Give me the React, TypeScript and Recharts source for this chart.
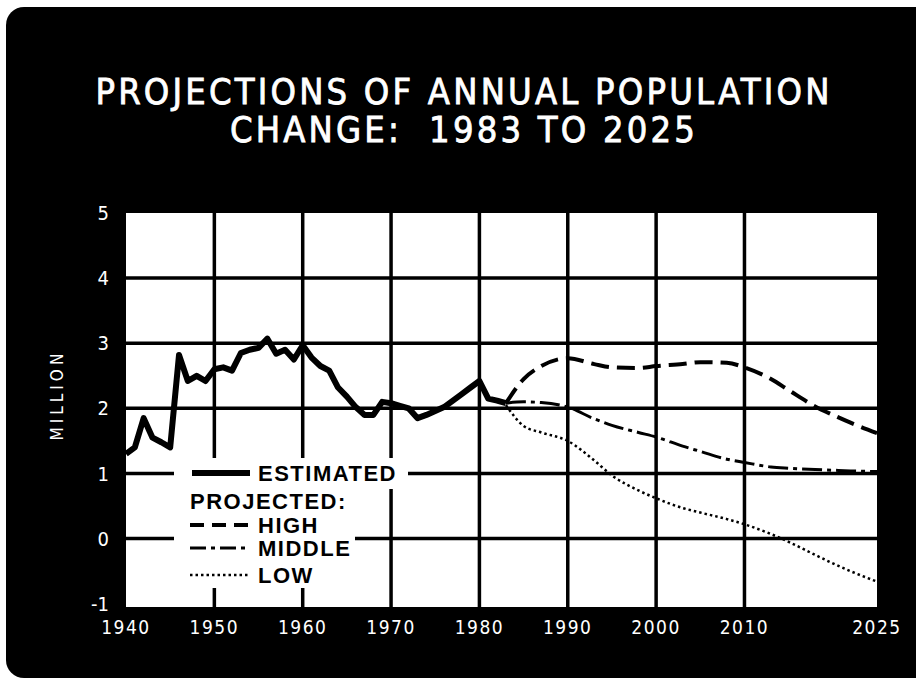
import { LineChart, Line, XAxis, YAxis, CartesianGrid } from "recharts";

// estimated annual change, million
const estYears = [
  1940, 1941, 1942, 1943, 1944, 1945, 1946, 1947, 1948, 1949, 1950, 1951, 1952, 1953, 1954,
  1955, 1956, 1957, 1958, 1959, 1960, 1961, 1962, 1963, 1964, 1965, 1966, 1967, 1968, 1969,
  1970, 1971, 1972, 1973, 1974, 1975, 1976, 1977, 1978, 1979, 1980, 1981, 1982, 1983,
];
const estimated = [
  1.3, 1.4, 1.85, 1.55, 1.48, 1.4, 2.82, 2.42, 2.5, 2.42, 2.6, 2.63, 2.58, 2.85, 2.9,
  2.93, 3.07, 2.84, 2.9, 2.75, 2.97, 2.78, 2.65, 2.58, 2.32, 2.18, 2.02, 1.9, 1.9, 2.1,
  2.08, 2.04, 2.0, 1.85, 1.9, 1.96, 2.02, 2.12, 2.22, 2.32, 2.42, 2.15, 2.12, 2.08,
];

// projections
const projYears = [1983, 1985, 1987, 1990, 1993, 1995, 1998, 2000, 2003, 2005, 2008, 2010, 2013, 2015, 2018, 2020, 2022, 2025];
const high = [2.08, 2.45, 2.65, 2.77, 2.68, 2.63, 2.62, 2.65, 2.68, 2.71, 2.7, 2.63, 2.45, 2.28, 2.03, 1.9, 1.78, 1.62];
const middle = [2.08, 2.1, 2.09, 2.02, 1.84, 1.74, 1.63, 1.56, 1.42, 1.34, 1.22, 1.17, 1.1, 1.08, 1.06, 1.05, 1.04, 1.03];
const low = [2.05, 1.73, 1.63, 1.5, 1.2, 0.97, 0.74, 0.62, 0.47, 0.4, 0.3, 0.22, 0.07, -0.05, -0.25, -0.38, -0.5, -0.66];

const xTicks = [1940, 1950, 1960, 1970, 1980, 1990, 2000, 2010, 2025];
const yTicks = [-1, 0, 1, 2, 3, 4, 5];
const gridYears = [1950, 1960, 1970, 1980, 1990, 2000, 2010];
const gridValues = [0, 1, 2, 3, 4];

const years = Array.from(new Set([...estYears, ...projYears])).sort((a, b) => a - b);
const data = years.map((year) => {
  const e = estYears.indexOf(year);
  const p = projYears.indexOf(year);
  return {
    year,
    estimated: e >= 0 ? estimated[e] : null,
    high: p >= 0 ? high[p] : null,
    middle: p >= 0 ? middle[p] : null,
    low: p >= 0 ? low[p] : null,
  };
});

const DASH_HIGH = "18 8";
const DASH_MIDDLE = "20 5 4 5";
const DASH_LOW = "2.5 3";

const axisFont = "'DejaVu Sans Condensed', 'DejaVu Sans', sans-serif";
const legendFont = "'Liberation Sans', Arial, sans-serif";

function Legend() {
  const textStyle = { fontFamily: legendFont, fontWeight: 700, fontSize: 22, letterSpacing: 1.5 };
  return (
    <svg width={916} height={679} style={{ position: "absolute", left: 0, top: 0 }}>
      <rect x={174} y={458} width={234} height={31} fill="#fff" />
      <rect x={174} y={489} width={181} height={99} fill="#fff" />
      <line x1={192} x2={250} y1={473} y2={473} stroke="#000" strokeWidth={6} />
      <text x={258} y={481} {...textStyle}>ESTIMATED</text>
      <text x={190} y={509} {...textStyle}>PROJECTED:</text>
      <line x1={190} x2={250} y1={525} y2={525} stroke="#000" strokeWidth={4} strokeDasharray="14 8" />
      <text x={258} y={533} {...textStyle}>HIGH</text>
      <line x1={190} x2={250} y1={548} y2={548} stroke="#000" strokeWidth={3} strokeDasharray="16 5 4 5" />
      <text x={258} y={556} {...textStyle}>MIDDLE</text>
      <line x1={190} x2={250} y1={575} y2={575} stroke="#000" strokeWidth={2.5} strokeDasharray={DASH_LOW} />
      <text x={258} y={583} {...textStyle}>LOW</text>
    </svg>
  );
}

export default function App() {
  return (
    <div style={{ position: "relative", width: 916, height: 679, background: "#fff", overflow: "hidden" }}>
      <style>{`body{margin:0}`}</style>
      <div
        style={{
          position: "absolute",
          left: 6,
          top: 7,
          right: 0,
          bottom: 1,
          background: "#000",
          borderTopLeftRadius: 18,
          borderBottomLeftRadius: 18,
        }}
      />
      <div
        style={{
          position: "absolute",
          left: 6,
          width: 916,
          top: 73,
          textAlign: "center",
          color: "#fff",
          fontFamily: "'DejaVu Sans Condensed', 'DejaVu Sans', sans-serif",
          fontSize: 36,
          letterSpacing: 3.2,
          lineHeight: "38px",
          WebkitTextStroke: "0.8px #fff",
        }}
      >
        <div>PROJECTIONS OF ANNUAL POPULATION</div>
        <div style={{ whiteSpace: "pre" }}>CHANGE:  1983 TO 2025</div>
      </div>
      <div style={{ position: "absolute", left: 0, top: 0 }}>
        <LineChart width={916} height={679} data={data} margin={{ top: 213, right: 39, bottom: 42, left: 46 }}>
          <CartesianGrid
            fill="#fff"
            stroke="#000"
            strokeWidth={3.5}
            verticalValues={gridYears}
            horizontalValues={gridValues}
          />
          <XAxis
            dataKey="year"
            type="number"
            domain={[1940, 2025]}
            ticks={xTicks}
            height={30}
            axisLine={false}
            tickLine={false}
            tickSize={0}
            tickMargin={14}
            tick={{ fill: "#fff", fontSize: 19, fontFamily: axisFont, letterSpacing: 1.5 }}
          />
          <YAxis
            type="number"
            domain={[-1.05, 5]}
            ticks={yTicks}
            width={80}
            axisLine={false}
            tickLine={false}
            tickSize={0}
            tickMargin={17}
            allowDataOverflow
            tick={{ fill: "#fff", fontSize: 20, fontFamily: axisFont }}
            label={({ viewBox }: any) => {
              const x = viewBox.x + 11;
              const y = viewBox.y + viewBox.height / 2 - 15;
              return (
                <text
                  x={x}
                  y={y}
                  transform={`rotate(-90 ${x} ${y})`}
                  textAnchor="middle"
                  dominantBaseline="central"
                  fill="#fff"
                  fontSize={17}
                  fontFamily={axisFont}
                  letterSpacing={4}
                >
                  MILLION
                </text>
              );
            }}
          />
          <Line
            dataKey="estimated"
            type="linear"
            stroke="#000"
            strokeWidth={6}
            strokeLinejoin="round"
            dot={false}
            connectNulls
            isAnimationActive={false}
          />
          <Line
            dataKey="high"
            type="monotone"
            stroke="#000"
            strokeWidth={4}
            strokeDasharray={DASH_HIGH}
            dot={false}
            connectNulls
            isAnimationActive={false}
          />
          <Line
            dataKey="middle"
            type="monotone"
            stroke="#000"
            strokeWidth={3}
            strokeDasharray={DASH_MIDDLE}
            dot={false}
            connectNulls
            isAnimationActive={false}
          />
          <Line
            dataKey="low"
            type="monotone"
            stroke="#000"
            strokeWidth={2.5}
            strokeDasharray={DASH_LOW}
            dot={false}
            connectNulls
            isAnimationActive={false}
          />
        </LineChart>
      </div>
      <Legend />
    </div>
  );
}
